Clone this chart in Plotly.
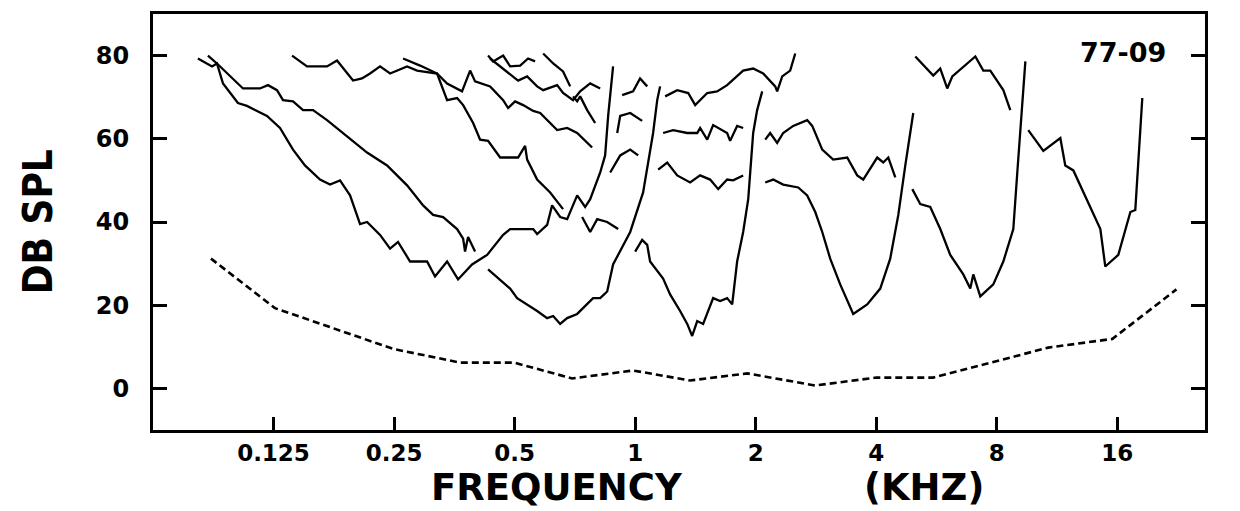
import plotly.graph_objects as go

# Frequencies are given in octaves re 1 kHz (freq_kHz = 2**oct); levels in dB SPL
a_oct = [-3.627,-3.510,-3.469,-3.419,-3.295,-3.220,-3.054,-2.946,-2.838,-2.739,-2.614,-2.531,-2.448,-2.365,-2.282,-2.224,-2.116,-2.033,-1.967,-1.867,-1.726,-1.660,-1.560,-1.469,-1.353,-1.228,-1.095,-1.037,-0.846,-0.813,-0.730,-0.689,-0.622,-0.564,-0.481,-0.415,-0.373,-0.290,-0.249,-0.224,-0.183]
a_db = [79.3,77.4,78.1,73.3,68.6,67.9,65.5,62.6,57.4,53.6,50.2,49.0,50.0,46.4,39.5,40.0,36.9,33.6,35.2,30.5,30.5,26.9,30.5,26.2,29.8,32.1,36.9,38.3,38.3,37.1,39.3,44.0,41.2,40.7,46.4,43.6,45.5,51.9,56.0,65.5,77.4]

b_oct = [-3.544,-3.469,-3.253,-3.112,-3.046,-2.971,-2.921,-2.838,-2.755,-2.672,-2.556,-2.390,-2.224,-2.058,-1.892,-1.759,-1.676,-1.593,-1.477,-1.427,-1.411,-1.386,-1.328]
b_db = [80.0,78.1,72.1,72.1,72.9,71.7,69.3,69.0,66.9,66.9,64.5,60.7,56.7,53.6,48.8,44.0,41.7,41.2,38.3,36.0,32.9,36.4,32.9]

c_oct = [-2.846,-2.722,-2.556,-2.473,-2.340,-2.266,-2.199,-2.116,-2.033,-1.892,-1.809,-1.643,-1.560,-1.436,-1.369,-1.328,-1.203,-1.095,-1.054,-0.996,-0.929,-0.846,-0.788,-0.647,-0.564,-0.481,-0.357]
c_db = [80.0,77.4,77.4,78.8,74.0,74.5,75.7,77.4,75.7,77.4,76.4,75.7,73.3,71.4,76.4,73.8,72.6,69.3,67.4,69.0,68.1,66.7,66.2,62.1,62.6,61.4,57.9]

d_oct = [-1.925,-1.784,-1.643,-1.560,-1.477,-1.427,-1.344,-1.286,-1.220,-1.120,-0.971,-0.913,-0.896,-0.813,-0.705,-0.622,-0.598]
d_db = [79.3,77.6,75.7,69.3,69.8,68.1,63.8,59.8,59.5,55.5,55.5,58.3,55.0,50.2,47.1,44.0,43.1]

e_oct = [-1.220,-1.178,-1.095,-1.037,-0.954,-0.888,-0.830]
e_db = [80.0,78.6,80.0,77.4,77.6,79.3,78.6]

f_oct = [-1.203,-1.062,-0.971,-0.896,-0.813,-0.763,-0.647,-0.598,-0.515,-0.456,-0.373,-0.290]
f_db = [79.3,76.2,74.0,75.0,72.6,71.7,72.9,71.0,69.3,71.4,73.3,72.1]

g_oct = [-0.763,-0.680,-0.598,-0.539]
g_db = [80.5,78.1,76.2,72.6]

h_oct = [-0.515,-0.481,-0.456,-0.398,-0.332]
h_db = [70.2,69.0,70.2,66.9,63.8]

s1_oct = [-0.108,-0.017,0.041,0.100]
s1_db = [70.5,71.4,74.5,72.6]
s2_oct = [-0.149,-0.124,-0.041,0.058]
s2_db = [61.4,65.5,66.2,64.3]
s3_oct = [-0.207,-0.124,-0.041,0.025]
s3_db = [51.9,56.0,57.4,56.0]
s4_oct = [-0.440,-0.373,-0.315,-0.232,-0.141]
s4_db = [41.2,37.6,40.7,40.0,38.3]

t1_oct = [-1.220,-1.120,-1.037,-0.979,-0.896,-0.813,-0.730,-0.680,-0.622,-0.564,-0.481,-0.398,-0.349,-0.290,-0.232,-0.183,-0.124,-0.041,0.066,0.149,0.183,0.207]
t1_db = [28.6,26.2,24.0,21.7,20.2,18.6,16.9,17.4,15.5,16.9,17.9,20.2,21.7,21.7,23.3,29.8,32.9,37.6,47.1,61.4,69.3,72.6]

t2_oct = [0.0,0.058,0.100,0.124,0.232,0.290,0.373,0.432,0.473,0.515,0.564,0.647,0.705,0.763,0.805,0.846,0.896,0.938,0.979,1.012,1.054]
t2_db = [32.9,35.7,34.5,30.5,26.4,22.6,18.6,15.5,12.6,16.2,15.5,21.7,21.0,21.7,20.2,30.5,37.6,45.5,61.4,66.9,71.4]

i_oct = [0.249,0.349,0.440,0.498,0.598,0.680,0.763,0.846,0.896,0.979,1.062,1.162,1.178,1.220,1.286,1.328]
i_db = [70.2,71.7,71.0,68.1,71.0,71.4,72.9,75.0,76.4,76.9,75.7,72.6,71.4,75.0,76.4,80.5]

m1_oct = [0.232,0.315,0.432,0.515,0.539,0.598,0.647,0.763,0.788,0.846,0.896]
m1_db = [61.4,62.1,61.4,61.4,62.6,59.8,63.3,61.4,59.5,63.1,62.6]
m2_oct = [0.191,0.266,0.349,0.456,0.539,0.622,0.689,0.763,0.813,0.896]
m2_db = [52.6,54.3,51.2,49.5,51.2,50.2,47.9,50.2,50.0,51.2]

j_oct = [1.079,1.120,1.178,1.228,1.311,1.427,1.469,1.552,1.643,1.759,1.842,1.892,2.008,2.058,2.100,2.158]
j_db = [59.8,61.4,59.0,61.4,63.1,64.5,63.1,57.4,55.0,55.5,51.2,50.2,55.5,54.3,55.5,50.7]

k_oct = [1.079,1.145,1.228,1.353,1.427,1.494,1.552,1.618,1.701,1.809,1.925,2.033,2.116,2.183,2.241,2.307]
k_db = [49.5,50.2,49.0,48.3,46.4,42.4,37.6,31.2,25.0,17.9,20.2,24.0,31.2,41.7,53.6,66.2]

l_oct = [2.324,2.473,2.531,2.589,2.631,2.722,2.822,2.888,2.946,3.054,3.112]
l_db = [79.8,75.2,76.9,72.1,75.0,77.4,79.8,76.4,76.4,71.7,66.9]

n8_oct = [2.299,2.365,2.448,2.531,2.614,2.722,2.780,2.805,2.863,2.971,3.054,3.137,3.170,3.212,3.237]
n8_db = [47.9,44.3,43.6,38.3,32.1,27.4,24.0,27.4,22.1,25.0,30.5,38.3,51.9,67.9,78.6]

n16_oct = [3.261,3.386,3.527,3.568,3.635,3.859,3.900,4.008,4.108,4.149,4.207]
n16_db = [62.1,57.1,60.2,53.6,52.4,38.3,29.3,32.1,42.4,42.9,69.8]

thr_oct = [-3.519,-2.988,-2.008,-1.452,-1.004,-0.523,-0.017,0.456,0.929,1.494,2.0,2.473,3.427,3.959,4.490]
thr_db = [31.2,19.3,9.5,6.2,6.2,2.4,4.3,1.9,3.6,0.7,2.6,2.6,9.8,11.9,23.8]

tick_vals = [0.125, 0.25, 0.5, 1, 2, 4, 8, 16]
tick_text = ["0.125", "0.25", "0.5", "1", "2", "4", "8", "16"]
y_ticks = [0, 20, 40, 60, 80]

curves = [(a_oct, a_db), (b_oct, b_db), (c_oct, c_db), (d_oct, d_db), (e_oct, e_db),
          (f_oct, f_db), (g_oct, g_db), (h_oct, h_db), (s1_oct, s1_db), (s2_oct, s2_db),
          (s3_oct, s3_db), (s4_oct, s4_db), (t1_oct, t1_db), (t2_oct, t2_db), (i_oct, i_db),
          (m1_oct, m1_db), (m2_oct, m2_db), (j_oct, j_db), (k_oct, k_db), (l_oct, l_db),
          (n8_oct, n8_db), (n16_oct, n16_db)]

fig = go.Figure()
for oc, db in curves:
    fig.add_trace(go.Scatter(x=[2 ** o for o in oc], y=db, mode="lines",
                             line=dict(color="black", width=2.3), showlegend=False,
                             hoverinfo="skip"))
fig.add_trace(go.Scatter(x=[2 ** o for o in thr_oct], y=thr_db, mode="lines",
                         line=dict(color="black", width=2.6, dash="7px,4px"),
                         showlegend=False, hoverinfo="skip"))

FONT = "DejaVu Sans"
fig.update_layout(
    width=1232, height=503,
    margin=dict(l=145, r=35, t=3, b=81),
    paper_bgcolor="white", plot_bgcolor="white",
    font=dict(family=FONT, color="black"),
    xaxis=dict(type="log", range=[-1.204, 1.423], tickvals=tick_vals, ticktext=tick_text,
               ticks="inside", ticklen=13, tickwidth=3, tickcolor="black",
               showline=True, linewidth=3, linecolor="black", mirror=True,
               showgrid=False, zeroline=False, ticklabelstandoff=0,
               tickfont=dict(family=FONT, size=23, weight="bold", color="black")),
    yaxis=dict(range=[-10, 90], tickvals=y_ticks, ticks="inside", ticklen=14, tickwidth=3,
               tickcolor="black", showline=True, linewidth=3, linecolor="black",
               mirror="ticks", showgrid=False, zeroline=False, ticklabelstandoff=16,
               tickfont=dict(family=FONT, size=24, weight="bold", color="black")),
    annotations=[
        dict(text="FREQUENCY", x=0.384, y=-0.139, xref="paper", yref="paper",
             showarrow=False, xanchor="center", yanchor="middle",
             font=dict(family=FONT, size=37, weight="bold", color="black")),
        dict(text="(KHZ)", x=0.733, y=-0.139, xref="paper", yref="paper",
             showarrow=False, xanchor="center", yanchor="middle",
             font=dict(family=FONT, size=37, weight="bold", color="black")),
        dict(text="DB SPL", x=-0.109, y=0.5, xref="paper", yref="paper", textangle=-90,
             showarrow=False, xanchor="center", yanchor="middle",
             font=dict(family="DejaVu Sans Condensed", size=40, weight="bold", color="black")),
        dict(text="77-09", x=0.922, y=0.907, xref="paper", yref="paper",
             showarrow=False, xanchor="center", yanchor="middle",
             font=dict(family=FONT, size=27, weight="bold", color="black")),
    ],
)
fig.write_html("out.html")
